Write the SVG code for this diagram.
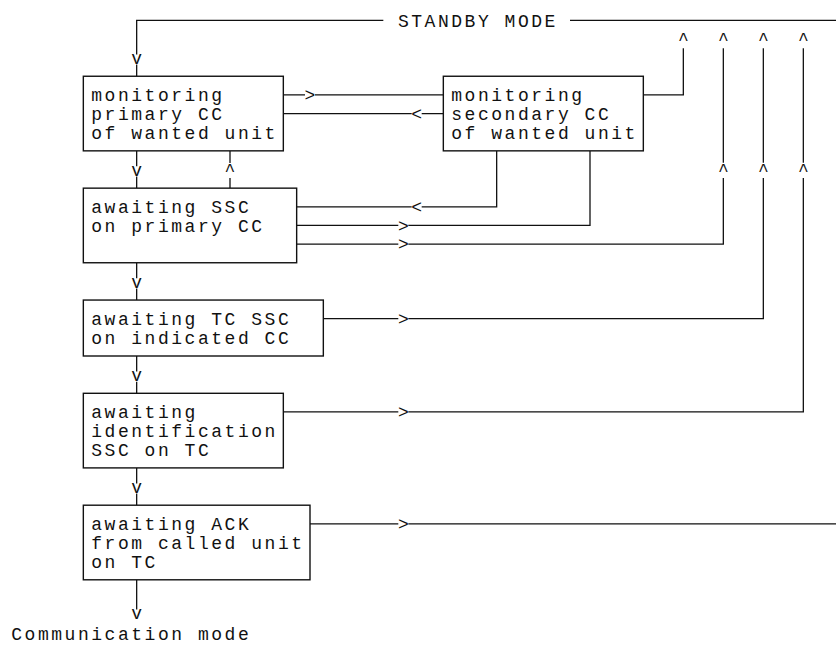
<svg xmlns="http://www.w3.org/2000/svg" width="836" height="645" viewBox="0 0 836 645">
<style>
  .bg { fill: #ffffff; }
  .box { fill: #ffffff; stroke: #111111; stroke-width: 1.4; }
  .ln { fill: none; stroke: #111111; stroke-width: 1.3; }
  .t { font-family: "Liberation Mono", "DejaVu Sans Mono", monospace; font-size: 18px; letter-spacing: 2.533px; fill: #111111; }
  .a { font-family: "Liberation Mono", "DejaVu Sans Mono", monospace; font-size: 18px; fill: #111111; text-anchor: middle; }
</style>
<rect class="bg" x="0" y="0" width="836" height="645"/>

<g id="connectors">
  <!-- standby mode top line -->
  <path class="ln" d="M383.33 20.3 H136.67 V54.4"/>
  <path class="ln" d="M136.67 64.5 V76.25"/>
  <path class="ln" d="M570 20.3 H836"/>
  <text class="a" x="136.67" y="64.1">v</text>
  <text class="t" x="397.93" y="26.8">STANDBY MODE</text>

  <!-- B1 <-> B2 -->
  <path class="ln" d="M283.33 94.9 H305 M315 94.9 H443.33"/>
  <text class="a" x="310" y="101.2">&gt;</text>
  <path class="ln" d="M443.33 113.55 H421.7 M411.7 113.55 H283.33"/>
  <text class="a" x="416.67" y="119.85">&lt;</text>

  <!-- B2 -> standby (col 50) -->
  <path class="ln" d="M643.33 94.9 H683.33 V48.3"/>
  <text class="a" x="683.33" y="45.45">^</text>

  <!-- col 53 : B3 -> standby -->
  <text class="a" x="723.33" y="45.45">^</text>
  <path class="ln" d="M723.33 48.3 V162.8"/>
  <text class="a" x="723.33" y="176">^</text>
  <path class="ln" d="M723.33 178 V244.1 H408.3 M398.3 244.1 H296.67"/>
  <text class="a" x="403.33" y="250.4">&gt;</text>

  <!-- col 56 : B4 -> standby -->
  <text class="a" x="763.33" y="45.45">^</text>
  <path class="ln" d="M763.33 48.3 V162.8"/>
  <text class="a" x="763.33" y="176">^</text>
  <path class="ln" d="M763.33 178 V318.7 H408.3 M398.3 318.7 H323.33"/>
  <text class="a" x="403.33" y="325">&gt;</text>

  <!-- col 59 : B5 -> standby -->
  <text class="a" x="803.33" y="45.45">^</text>
  <path class="ln" d="M803.33 48.3 V162.8"/>
  <text class="a" x="803.33" y="176">^</text>
  <path class="ln" d="M803.33 178 V411.95 H408.3 M398.3 411.95 H283.33"/>
  <text class="a" x="403.33" y="418.25">&gt;</text>

  <!-- B6 -> right -->
  <path class="ln" d="M310 523.85 H398.3 M408.3 523.85 H836"/>
  <text class="a" x="403.33" y="530.15">&gt;</text>

  <!-- B2 -> B3 (col 36) -->
  <path class="ln" d="M496.67 150.85 V206.8 H421.7 M411.7 206.8 H296.67"/>
  <text class="a" x="416.67" y="213.1">&lt;</text>

  <!-- B3 -> B2 (col 43) -->
  <path class="ln" d="M590 150.85 V225.45 H408.3 M398.3 225.45 H296.67"/>
  <text class="a" x="403.33" y="231.75">&gt;</text>

  <!-- B1 -> B3 (col 9) -->
  <path class="ln" d="M136.67 150.85 V166.3 M136.67 176.5 V188.15"/>
  <text class="a" x="136.67" y="176">v</text>

  <!-- B3 -> B1 (col 16) -->
  <path class="ln" d="M230 188.15 V178 M230 163 V150.85"/>
  <text class="a" x="230" y="176">^</text>

  <!-- B3 -> B4 -->
  <path class="ln" d="M136.67 262.75 V278.2 M136.67 288.4 V300.05"/>
  <text class="a" x="136.67" y="287.9">v</text>

  <!-- B4 -> B5 -->
  <path class="ln" d="M136.67 356 V371.5 M136.67 381.7 V393.3"/>
  <text class="a" x="136.67" y="381.15">v</text>

  <!-- B5 -> B6 -->
  <path class="ln" d="M136.67 467.9 V483.4 M136.67 493.6 V505.2"/>
  <text class="a" x="136.67" y="493.05">v</text>

  <!-- B6 -> communication mode -->
  <path class="ln" d="M136.67 579.8 V609.4"/>
  <text class="a" x="136.67" y="619">v</text>
  <text class="t" x="11.27" y="639.5">Communication mode</text>
</g>

<g id="node-monitoring-primary">
  <rect class="box" x="83.33" y="76.25" width="200" height="74.6"/>
  <text class="t" x="91.27" y="101.4">monitoring</text>
  <text class="t" x="91.27" y="120.05">primary CC</text>
  <text class="t" x="91.27" y="138.7">of wanted unit</text>
</g>

<g id="node-monitoring-secondary">
  <rect class="box" x="443.33" y="76.25" width="200" height="74.6"/>
  <text class="t" x="451.27" y="101.4">monitoring</text>
  <text class="t" x="451.27" y="120.05">secondary CC</text>
  <text class="t" x="451.27" y="138.7">of wanted unit</text>
</g>

<g id="node-awaiting-ssc">
  <rect class="box" x="83.33" y="188.15" width="213.33" height="74.6"/>
  <text class="t" x="91.27" y="213.3">awaiting SSC</text>
  <text class="t" x="91.27" y="231.95">on primary CC</text>
</g>

<g id="node-awaiting-tc-ssc">
  <rect class="box" x="83.33" y="300.05" width="240" height="55.95"/>
  <text class="t" x="91.27" y="325.2">awaiting TC SSC</text>
  <text class="t" x="91.27" y="343.85">on indicated CC</text>
</g>

<g id="node-awaiting-identification">
  <rect class="box" x="83.33" y="393.3" width="200" height="74.6"/>
  <text class="t" x="91.27" y="418.45">awaiting</text>
  <text class="t" x="91.27" y="437.1">identification</text>
  <text class="t" x="91.27" y="455.75">SSC on TC</text>
</g>

<g id="node-awaiting-ack">
  <rect class="box" x="83.33" y="505.2" width="226.67" height="74.6"/>
  <text class="t" x="91.27" y="530.35">awaiting ACK</text>
  <text class="t" x="91.27" y="549">from called unit</text>
  <text class="t" x="91.27" y="567.65">on TC</text>
</g>
</svg>
